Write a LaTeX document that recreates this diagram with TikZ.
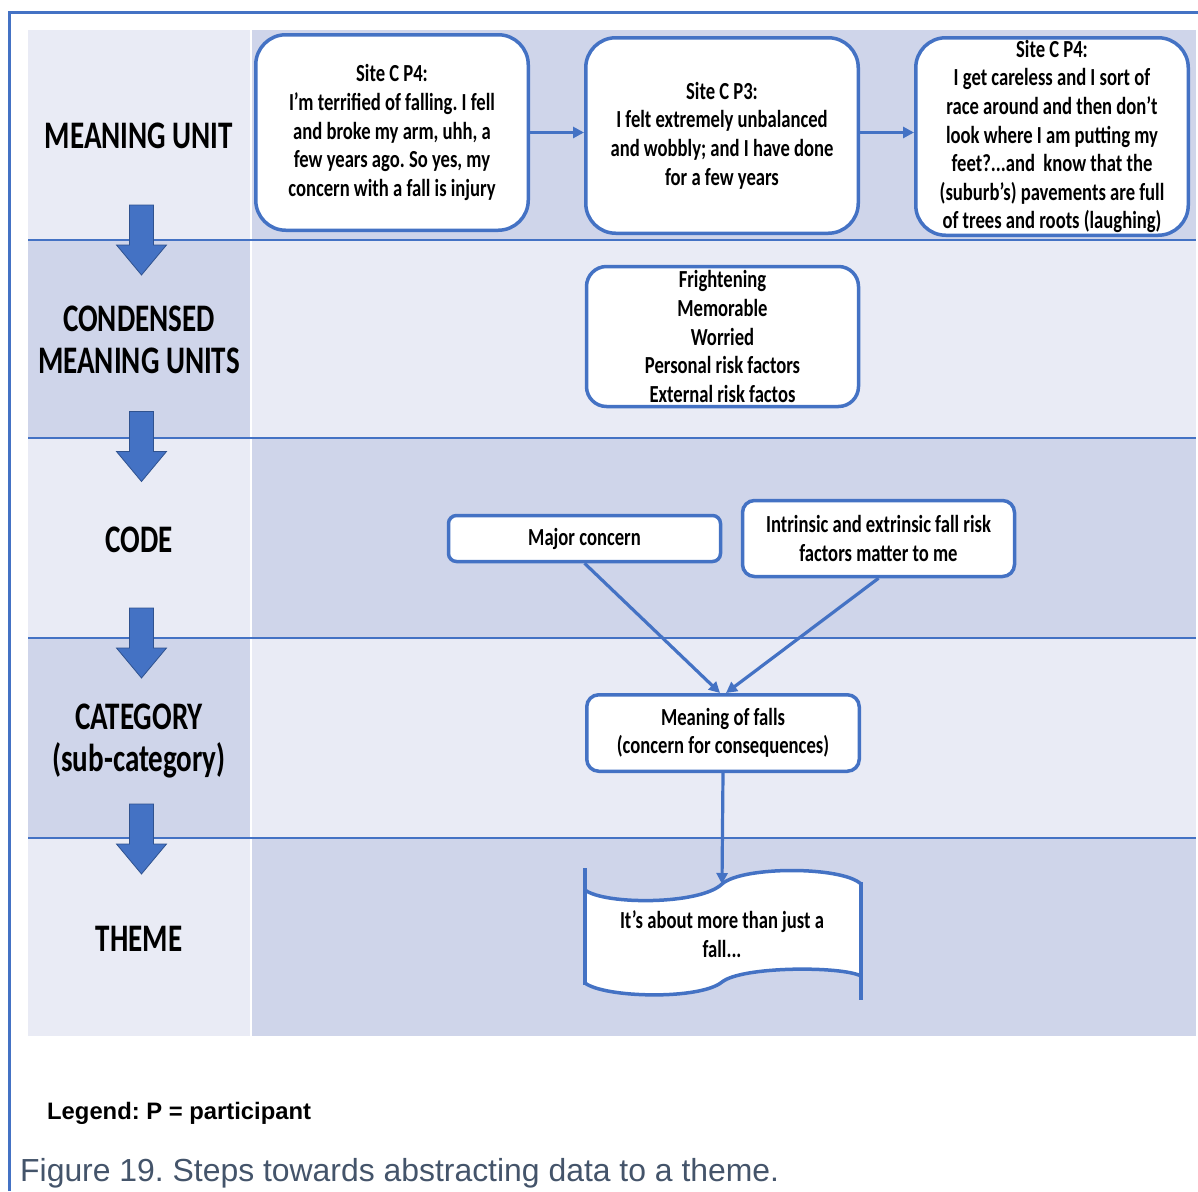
\documentclass[tikz,border=0pt]{standalone}
\usepackage{fontspec}
\setmainfont{Carlito}
\newfontfamily\cfont[FakeStretch=0.76]{Carlito}
\newfontfamily\lfont[FakeStretch=0.745]{Carlito}
\newfontfamily\afont{Liberation Sans}
\usetikzlibrary{arrows.meta}
\definecolor{mblue}{HTML}{4472C4}
\definecolor{dblue}{HTML}{2F528F}
\definecolor{rowL}{HTML}{E9EBF5}
\definecolor{rowD}{HTML}{CFD5EA}
\definecolor{capc}{HTML}{44546A}
\frenchspacing
\tikzset{
 mbox/.style={draw=mblue, line width=3.5pt, fill=white, align=center, inner sep=0pt,
   font=\cfont\bfseries\fontsize{24.5}{28.6}\selectfont},
 thtext/.style={align=center, inner sep=0pt, font=\cfont\bfseries\fontsize{24.5}{28.6}\selectfont},
 lab/.style={align=center, inner sep=0pt, font=\lfont\bfseries\fontsize{39}{42.5}\selectfont},
 conn/.style={draw=mblue, line width=3.2pt, -{Triangle[length=11pt,width=11pt]}},
 rowline/.style={draw=mblue, line width=1.6pt},
 blockarrow/.style={fill=mblue, draw=dblue, line width=0.8pt},
 frameline/.style={draw=mblue, line width=3pt},
}
\begin{document}
\begin{tikzpicture}[x=1pt,y=-1pt]
\useasboundingbox (0,0) rectangle (1198,1191);
% frame
\draw[frameline] (9,1191) -- (9,12) -- (1198,12);
% row backgrounds
\fill[rowL] (28,30) rectangle (250,240);
\fill[rowD] (252,30) rectangle (1196,240);
\fill[rowD] (28,240) rectangle (250,438);
\fill[rowL] (252,240) rectangle (1196,438);
\fill[rowL] (28,438) rectangle (250,638);
\fill[rowD] (252,438) rectangle (1196,638);
\fill[rowD] (28,638) rectangle (250,838);
\fill[rowL] (252,638) rectangle (1196,838);
\fill[rowL] (28,838) rectangle (250,1036);
\fill[rowD] (252,838) rectangle (1196,1036);
% row separators
\foreach \yy in {240,438,638,838} {\draw[rowline] (28,\yy) -- (1196,\yy);}
% block arrows
\foreach \yy in {205,411.5,608,804} {
  \filldraw[blockarrow] (129.5,\yy) -- (153.5,\yy) -- (153.5,\yy+40) -- (166.5,\yy+40)
     -- (141.5,\yy+70) -- (116.5,\yy+40) -- (129.5,\yy+40) -- cycle;
}
% left labels
\node[lab] (l1) at (139,135.5) {MEANING UNIT};
\node[lab] (l2) at (139,340) {CONDENSED\\MEANING UNITS};
\node[lab] (l3) at (139,540) {CODE};
\node[lab] (l4) at (139,741) {CATEGORY\\(sub-category)};
\node[lab] (l5) at (139,939) {THEME};
% meaning units
\node[mbox, rounded corners=30pt, minimum width=272.5pt, minimum height=195.5pt] (A) at (392,132.5)
 {Site C P4:\\I’m terrified of falling. I fell\\and broke my arm, uhh, a\\few years ago. So yes, my\\concern with a fall is injury};
\node[mbox, rounded corners=30pt, minimum width=272.5pt, minimum height=195.5pt] (B) at (722,135.5)
 {Site C P3:\\I felt extremely unbalanced\\and wobbly; and I have done\\for a few years};
\node[mbox, rounded corners=30pt, minimum width=272.5pt, minimum height=197.5pt] (C) at (1052,136.5)
 {Site C P4:\\I get careless and I sort of\\race around and then don’t\\look where I am putting my\\feet?...and\ \ know that the\\(suburb’s) pavements are full\\of trees and roots (laughing)};
\draw[conn] (A.east) -- (A.east -| B.west);
\draw[conn] (A.east -| B.east) -- (A.east -| C.west);
% condensed
\node[mbox, rounded corners=20pt, minimum width=272pt, minimum height=140pt] (D) at (722.5,336.5)
 {Frightening\\Memorable\\Worried\\Personal risk factors\\External risk factos};
% codes
\node[mbox, rounded corners=8pt, minimum width=272pt, minimum height=46pt] (E) at (584.5,538.5) {Major concern};
\node[mbox, rounded corners=12pt, minimum width=272pt, minimum height=76pt] (F) at (878.5,538.5)
 {Intrinsic and extrinsic fall risk\\factors matter to me};
% category
\node[mbox, rounded corners=12pt, minimum width=272.5pt, minimum height=76.5pt] (G) at (723,733)
 {Meaning of falls\\(concern for consequences)};
\draw[conn] (E.south) -- ([xshift=-3pt]G.north);
\draw[conn] (F.south) -- ([xshift=3pt]G.north);
% theme shape
\coordinate (T) at (722,884);
\fill[white] (585,890) .. controls (605,905) and (700,905) .. (722,884)
  .. controls (742,866) and (842,866) .. (861,884) -- (861,976)
  .. controls (842,966) and (742,966) .. (722,982)
  .. controls (700,1000) and (605,998) .. (585,983) -- cycle;
\draw[mblue, line width=3.5pt] (585,890) .. controls (605,905) and (700,905) .. (722,884)
  .. controls (742,866) and (842,866) .. (861,884);
\draw[mblue, line width=3.5pt] (861,976) .. controls (842,966) and (742,966) .. (722,982)
  .. controls (700,1000) and (605,998) .. (585,983);
\draw[mblue, line width=3.5pt] (585,868) -- (585,984.5);
\draw[mblue, line width=3.5pt] (861,882) -- (861,1000);
\draw[conn] (G.south) -- (T);
\node[thtext] (th) at (722,934) {It’s about more than just a\\fall...};
% legend and caption
\node[anchor=base west, inner sep=0pt, font=\afont\bfseries\fontsize{23.8}{28}\selectfont] (leg) at (47,1119) {Legend: P = participant};
\node[anchor=base west, inner sep=0pt, text=capc, font=\afont\fontsize{31.9}{36}\selectfont] (cap) at (20,1181) {Figure 19. Steps towards abstracting data to a theme.};
\end{tikzpicture}
\end{document}
